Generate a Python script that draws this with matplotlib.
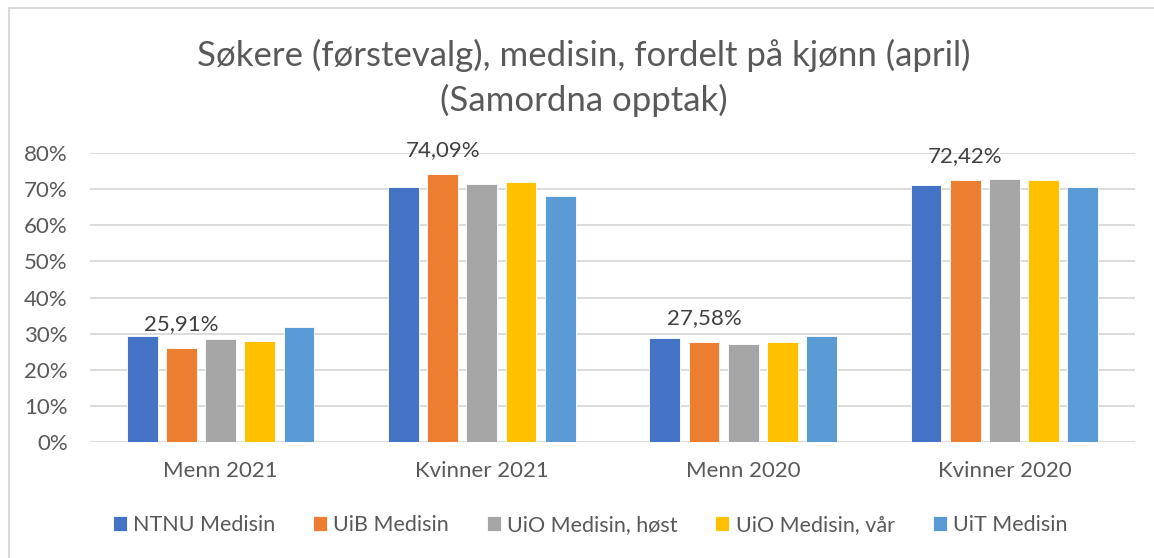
import matplotlib.pyplot as plt
import numpy as np
from matplotlib.patches import Rectangle

categories = ["Menn 2021", "Kvinner 2021", "Menn 2020", "Kvinner 2020"]
series_names = ["NTNU Medisin", "UiB Medisin", "UiO Medisin, høst", "UiO Medisin, vår", "UiT Medisin"]
ntnu = [0.2930, 0.7070, 0.2880, 0.7120]
uib = [0.2591, 0.7409, 0.2758, 0.7242]
uio_host = [0.2850, 0.7150, 0.2725, 0.7275]
uio_var = [0.2795, 0.7205, 0.2758, 0.7242]
uit = [0.3190, 0.6810, 0.2945, 0.7055]
yticks = [0.0, 0.1, 0.2, 0.3, 0.4, 0.5, 0.6, 0.7, 0.8]

colors = ["#4472C4", "#ED7D31", "#A5A5A5", "#FFC000", "#5B9BD5"]
text_color = "#595959"

plt.rcParams["font.family"] = ["Lato", "DejaVu Sans"]

fig = plt.figure(figsize=(11.54, 5.58), dpi=100)
ax = fig.add_axes([90 / 1154, 1 - 442 / 558, (1135 - 90) / 1154, (442 - 153) / 558])

x = np.arange(len(categories))
step = 0.150
width = 0.118
all_series = [ntnu, uib, uio_host, uio_var, uit]
for i, (name, vals) in enumerate(zip(series_names, all_series)):
    pos = x + (i - 2) * step
    bars = ax.bar(pos, vals, width=width, color=colors[i], label=name,
                  edgecolor="white", linewidth=0.6, zorder=3)
    # only UiB has value labels in the original
    if name == "UiB Medisin":
        for b, v in zip(bars, vals):
            ax.annotate(f"{v * 100:.2f}%".replace(".", ","),
                        (b.get_x() + b.get_width() / 2, v), xytext=(0, 13),
                        textcoords="offset points", ha="center", va="baseline",
                        fontsize=16, color="#404040")

ax.set_xlim(-0.5, 3.5)
ax.set_ylim(0, 0.8)
ax.set_yticks(yticks)
ax.set_yticklabels([f"{int(round(t * 100))}%" for t in yticks])
ax.set_xticks(x)
ax.set_xticklabels(categories)
ax.tick_params(axis="both", length=0, labelsize=16, labelcolor=text_color)
ax.tick_params(axis="y", pad=16)
ax.tick_params(axis="x", pad=14)
ax.grid(axis="y", color="#D9D9D9", linewidth=1.3, zorder=0)
for s in ax.spines.values():
    s.set_visible(False)

fig.text(584 / 1154, 1 - 55 / 558, "Søkere (førstevalg), medisin, fordelt på kjønn (april)",
         ha="center", va="center", fontsize=25, color=text_color)
fig.text(584 / 1154, 1 - 100 / 558, "(Samordna opptak)",
         ha="center", va="center", fontsize=25, color=text_color)

fig.legend(loc="center", bbox_to_anchor=(590 / 1154, 1 - 525 / 558), ncol=5, frameon=False,
           fontsize=15.5, labelcolor=text_color, handlelength=0.65, handleheight=0.65,
           handletextpad=0.3, columnspacing=1.75)

fig.patches.append(Rectangle((9 / 1154, -0.1), 1.2, 1.1 - 8 / 558, transform=fig.transFigure,
                             fill=False, edgecolor="#D9D9D9", linewidth=1.5, figure=fig))

fig.savefig("out.png", dpi=100, facecolor="white")
